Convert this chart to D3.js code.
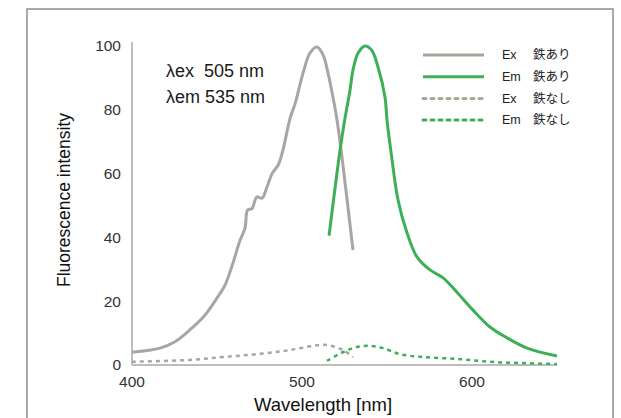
<!DOCTYPE html>
<html>
<head>
<meta charset="utf-8">
<script src="https://cdn.jsdelivr.net/npm/d3@7"></script>
<style>
  body { margin: 0; background: #fff; }
  svg { display: block; font-family: "Liberation Sans", Arial, "Noto Sans CJK JP", sans-serif; }
</style>
</head>
<body>
<div id="chart"></div>
<script>
// Excitation, with iron (solid grey)
const exWith = [
  [400, 4], [416.5, 5.3], [425, 7.2], [434, 11], [443, 15.7], [450, 21],
  [454.7, 25], [459.4, 32], [463.5, 39], [466.5, 43], [468, 48.6], [470.6, 49],
  [472.4, 51.7], [473.5, 52.7], [476.5, 52.3], [479.4, 55.8], [482.4, 60],
  [486, 62.7], [488.8, 67.4], [493, 77.4], [496, 82], [500.6, 91.5],
  [504.7, 97.8], [508.8, 99.7], [512.4, 97.2], [515.3, 91.5], [518.2, 84],
  [520.6, 76.8], [523.5, 65.2], [530, 36]
];

// Emission, with iron (solid green)
const emWith = [
  [515.9, 40.5], [522.4, 67.4], [525.3, 77.4], [528.2, 86], [530, 92.5],
  [533, 97.8], [537, 100], [541, 98.7], [544.7, 93.4], [548.8, 84],
  [550, 76.8], [552.8, 65], [556.5, 51.7], [561.8, 41.4], [567.6, 33.9],
  [575.3, 29.8], [583, 27.3], [591, 22.9], [600.6, 17.2], [610.6, 11.9],
  [620.6, 8.5], [632.4, 5.3], [650, 2.8]
];

// Excitation, without iron (dashed grey)
const exWithout = [
  [400, 1], [434, 1.6], [453.5, 2.5], [473.5, 3.4], [493, 4.7],
  [510.6, 6.3], [516.5, 6.1], [524, 4.7], [530, 2.5]
];

// Emission, without iron (dashed green)
const emWithout = [
  [514.7, 1.3], [524, 4], [532, 5.6], [540, 6], [547.6, 5.3], [557.6, 3.4],
  [571, 2.5], [591, 1.9], [610.6, 1], [630, 0.6], [650, 0.3]
];

const xTicks = [400, 500, 600];
const yTicks = [0, 20, 40, 60, 80, 100];

const legendItems = [
  { name: "Ex", label: "鉄あり", color: "#a8a39b", dash: null },
  { name: "Em", label: "鉄あり", color: "#3daf57", dash: null },
  { name: "Ex", label: "鉄なし", color: "#aca597", dash: "3,5" },
  { name: "Em", label: "鉄なし", color: "#3daf57", dash: "3,5" }
];

const notes = ["λex  505 nm", "λem 535 nm"];

const width = 621, height = 418;
const grey = "#a6a6a6", green = "#3daf57";

const svg = d3.select("#chart").append("svg")
  .attr("width", width)
  .attr("height", height);

// Outer frame, open at the bottom.
svg.append("path")
  .attr("d", "M27,420 V9 H613 V420")
  .attr("fill", "none")
  .attr("stroke", "#8c8c8c")
  .attr("stroke-width", 1.5);

const x = d3.scaleLinear().domain([400, 650]).range([132, 557]);
const y = d3.scaleLinear().domain([0, 100]).range([365, 46]);

// Axes as plain lines.
svg.append("line")
  .attr("x1", x(400)).attr("x2", x(400))
  .attr("y1", 42).attr("y2", y(0))
  .attr("stroke", "#bdbdbd").attr("stroke-width", 2);

svg.append("line")
  .attr("x1", x(400)).attr("x2", x(650))
  .attr("y1", y(0)).attr("y2", y(0))
  .attr("stroke", "#bdbdbd").attr("stroke-width", 2);

svg.selectAll(".ytick")
  .data(yTicks)
  .enter().append("text")
  .attr("class", "ytick")
  .attr("x", 121)
  .attr("y", d => y(d))
  .attr("dy", "0.35em")
  .attr("text-anchor", "end")
  .attr("font-size", 15.5)
  .attr("fill", "#333")
  .text(d => d);

svg.selectAll(".xtick")
  .data(xTicks)
  .enter().append("text")
  .attr("class", "xtick")
  .attr("x", d => x(d))
  .attr("y", 387)
  .attr("text-anchor", "middle")
  .attr("font-size", 15.5)
  .attr("fill", "#333")
  .text(d => d);

svg.append("text")
  .attr("x", 323)
  .attr("y", 411)
  .attr("text-anchor", "middle")
  .attr("font-size", 18.5)
  .attr("fill", "#111")
  .text("Wavelength [nm]");

svg.append("text")
  .attr("transform", "translate(70,200) rotate(-90)")
  .attr("text-anchor", "middle")
  .attr("font-size", 17.5)
  .attr("fill", "#111")
  .text("Fluorescence intensity");

// Spectra.
const line = d3.line()
  .x(d => x(d[0]))
  .y(d => y(d[1]))
  .curve(d3.curveCatmullRom);

const series = [
  { data: exWithout, color: grey, dash: "4,4", w: 2.5 },
  { data: emWithout, color: green, dash: "4,4", w: 2.5 },
  { data: exWith, color: grey, dash: null, w: 3 },
  { data: emWith, color: green, dash: null, w: 3 }
];

series.forEach(s => {
  svg.append("path")
    .datum(s.data)
    .attr("d", line)
    .attr("fill", "none")
    .attr("stroke", s.color)
    .attr("stroke-width", s.w)
    .attr("stroke-dasharray", s.dash);
});

// Excitation / emission annotation.
svg.selectAll(".note")
  .data(notes)
  .enter().append("text")
  .attr("class", "note")
  .attr("x", 166)
  .attr("y", (d, i) => 77 + i * 26)
  .attr("font-size", 18)
  .attr("fill", "#1a1a1a")
  .style("white-space", "pre")
  .text(d => d);

// Legend.
const legend = svg.append("g");
const rows = legend.selectAll("g")
  .data(legendItems)
  .enter().append("g")
  .attr("transform", (d, i) => `translate(0,${55 + i * 21.7})`);

rows.append("line")
  .attr("x1", 423).attr("x2", 484)
  .attr("stroke", d => d.color)
  .attr("stroke-width", 3)
  .attr("stroke-linecap", d => d.dash ? "round" : "butt")
  .attr("stroke-dasharray", d => d.dash);

rows.append("text")
  .attr("x", 502)
  .attr("dy", "0.35em")
  .attr("font-size", 12.5)
  .attr("fill", "#222")
  .text(d => d.name);

rows.append("text")
  .attr("x", 533)
  .attr("dy", "0.35em")
  .attr("font-size", 12.5)
  .attr("fill", "#222")
  .style("font-family", "'Noto Sans CJK JP', sans-serif")
  .text(d => d.label);
</script>
</body>
</html>
